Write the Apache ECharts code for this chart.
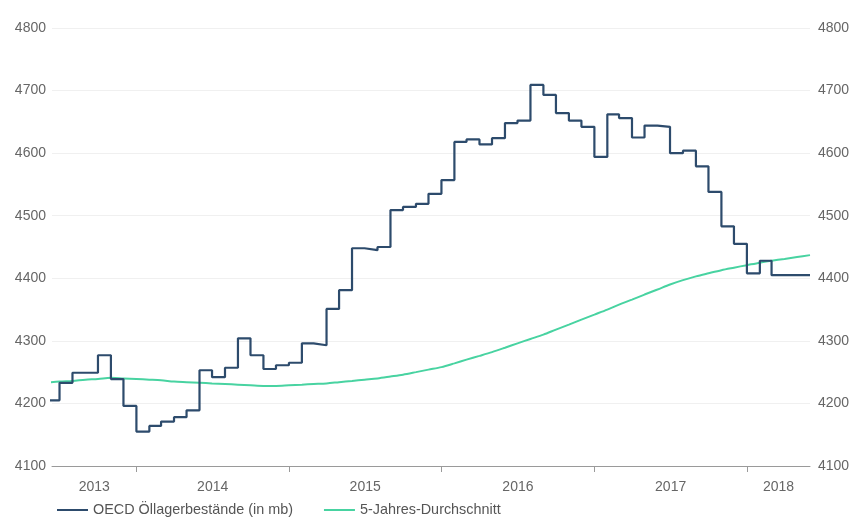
<!DOCTYPE html>
<html>
<head>
<meta charset="utf-8">
<script src="https://cdn.jsdelivr.net/npm/echarts@6/dist/echarts.min.js"></script>
<style>html,body{margin:0;padding:0;background:#fff}#c{width:853px;height:519px}</style>
</head>
<body>
<div id="c"></div>
<script>
// Monthly dates (first day of month)
const months = [
  '2013-06-01','2013-07-01','2013-08-01','2013-09-01','2013-10-01','2013-11-01','2013-12-01',
  '2014-01-01','2014-02-01','2014-03-01','2014-04-01','2014-05-01','2014-06-01','2014-07-01','2014-08-01','2014-09-01','2014-10-01','2014-11-01','2014-12-01',
  '2015-01-01','2015-02-01','2015-03-01','2015-04-01','2015-05-01','2015-06-01','2015-07-01','2015-08-01','2015-09-01','2015-10-01','2015-11-01','2015-12-01',
  '2016-01-01','2016-02-01','2016-03-01','2016-04-01','2016-05-01','2016-06-01','2016-07-01','2016-08-01','2016-09-01','2016-10-01','2016-11-01','2016-12-01',
  '2017-01-01','2017-02-01','2017-03-01','2017-04-01','2017-05-01','2017-06-01','2017-07-01','2017-08-01','2017-09-01','2017-10-01','2017-11-01','2017-12-01',
  '2018-01-01','2018-02-01','2018-03-01','2018-04-01','2018-05-01','2018-06-01'
];
// OECD oil inventories (mb), one value per month Jun 2013 .. May 2018
const oecdStocks = [
  4205,4233,4249,4249,4277,4239,4196,
  4155,4164,4171,4178,4189,4253,4242,4257,4304,4277,4255,4261,
  4265,4296,4293,4351,4381,4448,4445,4450,4509,4514,4519,4535,
  4557,4618,4622,4614,4624,4648,4652,4709,4693,4664,4652,4642,
  4594,4662,4656,4625,4644,4642,4600,4604,4579,4538,4483,4455,
  4408,4428,4405,4405,4405
];
// 5-year average, Jun 2013 .. Jun 2018
const fiveYearAvg = [
  4233,4235,4236,4238,4239,4241,4240,
  4239,4238,4237,4235,4234,4233,4232,4231,4230,4229,4228,4228,
  4229,4230,4231,4232,4234,4236,4238,4240,4243,4246,4250,4254,
  4258,4264,4270,4276,4282,4289,4296,4303,4310,4318,4326,4334,
  4342,4350,4358,4366,4374,4382,4390,4397,4403,4408,4413,4417,
  4421,4425,4428,4431,4434,4437
];
const yearLabels = ['2013','2014','2015','2016','2017','2018'];
const axisMinDate = '2013-06-13';
const axisMaxDate = '2018-06-01';
const yTicks = [4100,4200,4300,4400,4500,4600,4700,4800];

function ts(s){ const p = s.split('-').map(Number); return Date.UTC(p[0], p[1]-1, p[2]); }
const xMin = ts(axisMinDate), xMax = ts(axisMaxDate);

// step series: each value holds for its month; close last month at the following month start
const stockData = oecdStocks.map((v,i)=>[ts(months[i]), v]);
stockData.push([ts(months[oecdStocks.length]), oecdStocks[oecdStocks.length-1]]);
const avgData = fiveYearAvg.map((v,i)=>[ts(months[i]), v]);

const yearStarts = yearLabels.slice(1).map(y=>ts(y+'-01-01'));
const labelPos = yearLabels.map(y=>{
  const s = Math.max(ts(y+'-01-01'), xMin);
  const e = Math.min(ts((+y+1)+'-01-01'), xMax);
  return Math.round((s+e)/2);
});

const font = 'Liberation Sans, Arial, sans-serif';
const navy = '#2d4b6c', green = '#48d3a1';
const chart = echarts.init(document.getElementById('c'), null, {renderer:'canvas'});
chart.setOption({
  animation: false,
  backgroundColor: '#ffffff',
  grid: {left: 52, right: 43, top: 28, bottom: 53, containLabel: false},
  legend: {
    left: 52, top: 503, itemWidth: 31, itemHeight: 2, itemGap: 31, padding: [0,5],
    icon: 'rect',
    textStyle: {fontFamily: font, fontSize: 14.4, color: '#555'},
    data: [
      {name: 'OECD Öllagerbestände (in mb)'},
      {name: '5-Jahres-Durchschnitt'}
    ]
  },
  xAxis: {
    type: 'value', min: xMin, max: xMax, scale: true,
    axisLine: {show: true, onZero: false, lineStyle: {color: '#9a9a9a', width: 1}},
    axisTick: {show: true, customValues: yearStarts, length: 6, lineStyle: {color: '#9a9a9a'}},
    axisLabel: {
      customValues: labelPos, margin: 14,
      fontFamily: font, fontSize: 14, color: '#666',
      formatter: v => String(new Date(v).getUTCFullYear())
    },
    splitLine: {show: false}
  },
  yAxis: [
    {type:'value', position:'left', min: yTicks[0], max: yTicks[yTicks.length-1], interval: 100,
     axisLine:{show:false}, axisTick:{show:false},
     axisLabel:{margin: 6, fontFamily: font, fontSize: 14, color:'#666', formatter: v => String(v)},
     splitLine:{show:true, lineStyle:{color:'#f0f0f0', width:1}}},
    {type:'value', position:'right', min: yTicks[0], max: yTicks[yTicks.length-1], interval: 100,
     axisLine:{show:false}, axisTick:{show:false},
     axisLabel:{margin: 8, fontFamily: font, fontSize: 14, color:'#666', formatter: v => String(v)},
     splitLine:{show:false}}
  ],
  series: [
    {name:'OECD Öllagerbestände (in mb)', type:'line', step:'end', data: stockData,
     symbol:'none', showSymbol:false, clip:true, z:3,
     lineStyle:{color:navy, width:2.2}, itemStyle:{color:navy}},
    {name:'5-Jahres-Durchschnitt', type:'line', data: avgData, smooth: 0.3,
     symbol:'none', showSymbol:false, clip:true, z:2,
     lineStyle:{color:green, width:2}, itemStyle:{color:green}}
  ]
});
</script>
</body>
</html>
